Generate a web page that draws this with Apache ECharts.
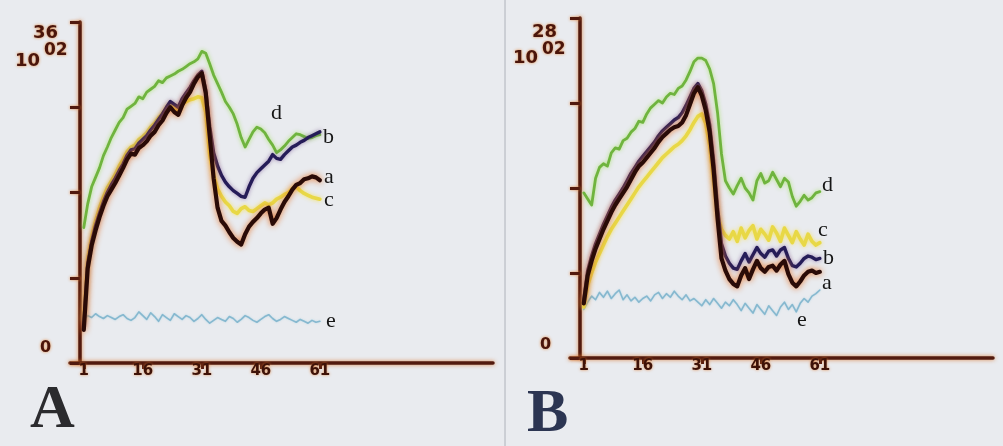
<!DOCTYPE html>
<html>
<head>
<meta charset="utf-8">
<script src="https://cdn.jsdelivr.net/npm/echarts@6/dist/echarts.min.js"></script>
<style>
html,body{margin:0;padding:0;background:#e9ebef;}
#chart{width:1003px;height:446px;}
</style>
</head>
<body>
<div id="chart"></div>
<script>
// time points (x axis)
const timePoints = [1,2,3,4,5,6,7,8,9,10,11,12,13,14,15,16,17,18,19,20,21,22,23,24,25,26,27,28,29,30,31,32,33,34,35,36,37,38,39,40,41,42,43,44,45,46,47,48,49,50,51,52,53,54,55,56,57,58,59,60,61];
const xTickLabels = [1,16,31,46,61];
const seriesNames = ['a','b','c','d','e'];

// Panel A (x 10^2)
const A_a = [3.5,10.0,12.4,14.0,15.4,16.6,17.6,18.3,19.0,19.8,20.6,21.5,22.1,22.0,22.7,23.0,23.4,24.0,24.4,25.1,25.6,26.4,27.0,26.5,26.2,27.2,28.0,28.6,29.5,30.2,30.6,28.5,24.0,19.5,16.4,15.0,14.5,13.8,13.2,12.8,12.5,13.6,14.4,14.9,15.3,15.8,16.2,16.4,14.7,15.3,16.2,17.0,17.6,18.3,18.8,19.0,19.4,19.5,19.7,19.6,19.3];
const A_b = [4.0,10.5,12.8,14.5,15.8,17.0,18.0,18.8,19.5,20.3,21.0,21.9,22.5,22.6,23.2,23.6,24.0,24.6,25.1,25.7,26.3,27.0,27.6,27.3,27.0,27.9,28.5,29.1,29.8,30.4,30.8,28.8,25.0,22.2,20.8,19.8,19.1,18.6,18.2,17.9,17.6,17.5,18.6,19.5,20.1,20.5,20.9,21.3,22.0,21.6,21.5,22.0,22.4,22.8,23.0,23.3,23.5,23.8,24.0,24.2,24.4];
const A_c = [4.5,11.0,13.3,15.0,16.4,17.5,18.5,19.2,19.9,20.8,21.5,22.3,22.8,23.0,23.6,23.9,24.3,24.9,25.3,25.9,26.3,26.9,27.3,27.0,26.7,27.3,27.6,27.8,27.9,28.1,28.0,26.5,22.0,19.8,18.4,17.6,17.0,16.6,16.0,15.8,16.3,16.5,16.1,16.0,16.3,16.6,16.9,16.7,16.9,17.3,17.5,17.8,18.0,18.4,18.6,18.2,17.9,17.7,17.5,17.4,17.3];
const A_d = [14.3,16.8,18.6,19.6,20.6,21.9,22.8,23.8,24.6,25.4,25.9,26.8,27.1,27.4,28.1,27.9,28.6,28.9,29.2,29.8,29.6,30.1,30.3,30.5,30.8,31.0,31.3,31.6,31.8,32.1,32.9,32.7,31.6,30.4,29.5,28.6,27.6,27.0,26.3,25.2,23.8,22.8,23.6,24.4,24.9,24.7,24.3,23.6,23.0,22.2,22.5,22.9,23.4,23.8,24.2,24.1,23.9,23.7,23.8,24.0,24.1];
const A_e = [4.6,5.0,4.8,5.2,4.9,4.7,5.0,4.8,4.6,4.9,5.1,4.7,4.5,4.8,5.4,5.0,4.6,5.3,4.9,4.4,5.1,4.8,4.5,5.2,4.9,4.6,5.0,4.8,4.4,4.7,5.1,4.6,4.2,4.5,4.8,4.6,4.4,4.9,4.7,4.3,4.6,5.0,4.8,4.5,4.3,4.6,4.9,5.1,4.7,4.4,4.6,4.9,4.7,4.5,4.3,4.6,4.4,4.2,4.5,4.3,4.4];

// Panel B (x 10^2)
const B_a = [4.5,6.8,8.0,9.0,9.8,10.6,11.3,12.0,12.6,13.1,13.6,14.1,14.7,15.3,15.8,16.1,16.5,16.9,17.3,17.8,18.2,18.5,18.8,19.0,19.1,19.4,20.0,20.9,21.8,22.3,21.6,20.4,18.6,15.5,11.5,8.2,7.2,6.5,6.1,5.9,6.8,7.4,6.5,7.3,8.0,7.4,7.1,7.5,7.6,7.2,7.7,8.0,6.9,6.2,5.9,6.3,6.8,7.1,7.2,7.0,7.1];
const B_b = [4.8,7.2,8.4,9.4,10.2,11.0,11.7,12.4,13.0,13.5,14.0,14.6,15.2,15.7,16.2,16.6,17.0,17.4,17.8,18.3,18.7,19.0,19.3,19.6,19.8,20.2,20.8,21.5,22.2,22.6,22.0,20.9,19.2,16.2,12.4,9.4,8.4,7.8,7.4,7.3,8.0,8.6,7.9,8.5,9.1,8.6,8.3,8.8,8.9,8.4,8.9,9.1,8.2,7.6,7.5,7.8,8.2,8.4,8.3,8.1,8.2];
const B_c = [4.2,6.0,7.0,7.9,8.6,9.3,10.0,10.6,11.1,11.6,12.1,12.6,13.1,13.6,14.1,14.5,14.9,15.3,15.7,16.1,16.5,16.8,17.1,17.4,17.6,17.9,18.3,18.8,19.4,19.9,20.1,19.3,17.5,14.6,11.8,10.6,10.1,9.8,10.4,9.6,10.7,9.9,10.5,10.9,9.8,10.6,10.2,9.7,10.8,10.3,9.6,10.7,10.1,9.5,10.4,9.8,9.3,10.2,9.6,9.3,9.5];
const B_d = [13.6,13.1,12.6,14.8,15.7,16.0,15.8,16.9,17.3,17.2,17.9,18.1,18.6,18.9,19.5,19.4,20.1,20.6,20.9,21.2,21.0,21.5,21.8,21.7,22.2,22.4,22.9,23.6,24.4,24.7,24.7,24.5,23.8,22.6,20.2,16.8,14.6,14.0,13.5,14.2,14.8,14.0,13.6,13.0,14.6,15.2,14.4,14.6,15.3,14.7,14.1,14.8,14.5,13.3,12.5,12.9,13.4,13.0,13.2,13.6,13.7];
const B_e = [4.0,4.6,5.1,4.8,5.4,5.0,5.5,4.9,5.3,5.6,4.8,5.2,4.7,5.0,4.6,4.9,5.1,4.7,5.2,5.4,4.9,5.3,5.0,5.5,5.1,4.8,5.2,4.7,4.9,4.6,4.3,4.8,4.4,4.9,4.5,4.1,4.6,4.3,4.8,4.4,3.9,4.5,4.1,3.7,4.4,4.0,3.6,4.3,3.9,3.5,4.2,4.6,4.0,4.4,3.8,4.5,4.9,4.6,5.1,5.3,5.6];

const panelA = {max: 36, interval: 9, topLabel: '36', values: [A_a, A_b, A_c, A_d, A_e]};
const panelB = {max: 28, interval: 7, topLabel: '28', values: [B_a, B_b, B_c, B_d, B_e]};

const styles = {
  a: {color: '#2a0b07', width: 4.2, shadow: 'rgba(225,110,35,0.95)', blur: 6},
  b: {color: '#251c58', width: 3.4, shadow: 'rgba(110,70,140,0.6)', blur: 4},
  c: {color: '#e8d846', width: 3.6, shadow: 'rgba(245,225,90,0.9)', blur: 4},
  d: {color: '#6fb43e', width: 2.8, shadow: 'rgba(170,225,110,0.9)', blur: 4},
  e: {color: '#86b8cf', width: 1.6, shadow: 'rgba(160,205,225,0.7)', blur: 2}
};
const axisColor = '#521a0e';
const axisGlow = 'rgba(220,120,45,0.85)';

const chart = echarts.init(document.getElementById('chart'), null, {renderer: 'canvas'});

const grids = [
  {left: 70, top: 22, width: 423, height: 341},
  {left: 570, top: 18, width: 423, height: 340}
];

const xAxes = [], yAxes = [], series = [];
[panelA, panelB].forEach((p, gi) => {
  xAxes.push({
    type: 'value', gridIndex: gi, min: -2.5, max: 105,
    axisLine: {show: true, lineStyle: {color: axisColor, width: 3.5, shadowColor: axisGlow, shadowBlur: 4}},
    axisTick: {show: true, customValues: xTickLabels, length: 6, lineStyle: {color: axisColor, width: 3}},
    axisLabel: {show: true, customValues: xTickLabels, margin: 1, color: '#3e1208',
      fontFamily: 'DejaVu Sans', fontWeight: 'bold', fontSize: 15,
      textShadowColor: 'rgba(220,120,45,0.8)', textShadowBlur: 3},
    splitLine: {show: false}
  });
  yAxes.push({
    type: 'value', gridIndex: gi, min: 0, max: p.max, interval: p.interval, position: 'left',
    axisLine: {show: true, onZero: true, lineStyle: {color: axisColor, width: 3.5, shadowColor: axisGlow, shadowBlur: 4}},
    axisTick: {show: true, length: 8, lineStyle: {color: axisColor, width: 3, shadowColor: axisGlow, shadowBlur: 3}},
    axisLabel: {show: false},
    splitLine: {show: false}
  });
  yAxes.push({
    type: 'value', gridIndex: gi, min: 0, max: p.max, interval: p.interval, position: 'left',
    axisLine: {show: false, onZero: true},
    axisTick: {show: true, inside: true, length: 8, lineStyle: {color: axisColor, width: 3, shadowColor: axisGlow, shadowBlur: 3}},
    axisLabel: {show: false},
    splitLine: {show: false}
  });
  const order = [4, 3, 2, 1, 0]; // e, d, c, b, a (a on top)
  order.forEach(si => {
    const name = seriesNames[si];
    const st = styles[name];
    series.push({
      name: (gi === 0 ? 'A-' : 'B-') + name,
      type: 'line', xAxisIndex: gi, yAxisIndex: gi * 2,
      data: timePoints.map((t, i) => [t, p.values[si][i]]),
      showSymbol: false, smooth: false, animation: false,
      lineStyle: {color: st.color, width: st.width, shadowColor: st.shadow, shadowBlur: st.blur, join: 'round', cap: 'round'}
    });
  });
});

const serifFont = '"Liberation Serif", "DejaVu Serif", serif';
const tickFont = '"DejaVu Sans", sans-serif';
function curveLabel(text, x, y) {
  return {type: 'text', left: x - 6, top: y - 13, silent: true,
    style: {text: text, font: '22px ' + serifFont, fill: '#161616'}};
}
function numText(text, x, y, size) {
  return {type: 'text', left: x, top: y, silent: true,
    style: {text: text, font: 'bold ' + size + 'px ' + tickFont, fill: '#4a150b',
      textShadowColor: 'rgba(225,125,45,0.9)', textShadowBlur: 3}};
}

const graphics = [
  {type: 'line', shape: {x1: 505, y1: 0, x2: 505, y2: 446}, style: {stroke: '#aeb2ba', lineWidth: 1}, silent: true},
  // Panel A unit / limits
  numText(panelA.topLabel, 33, 24, 18),
  numText('10', 15, 52, 18),
  numText('02', 44, 42, 17),
  numText('0', 40, 340, 16),
  // Panel B unit / limits
  numText(panelB.topLabel, 532, 23, 18),
  numText('10', 513, 49, 18),
  numText('02', 542, 41, 17),
  numText('0', 540, 337, 16),
  // curve labels A
  curveLabel('d', 277, 115),
  curveLabel('b', 329, 139),
  curveLabel('a', 330, 179),
  curveLabel('c', 330, 202),
  curveLabel('e', 332, 323),
  // curve labels B
  curveLabel('d', 828, 187),
  curveLabel('c', 824, 232),
  curveLabel('b', 829, 260),
  curveLabel('a', 828, 285),
  curveLabel('e', 803, 322),
  // panel letters
  {type: 'text', left: 30, top: 380, silent: true,
    style: {text: 'A', font: 'bold 62px ' + serifFont, fill: '#2b2b2e'}},
  {type: 'text', left: 527, top: 384, silent: true,
    style: {text: 'B', font: 'bold 62px ' + serifFont, fill: '#2c3552'}}
];

chart.setOption({
  backgroundColor: '#e9ebef',
  animation: false,
  grid: grids,
  xAxis: xAxes,
  yAxis: yAxes,
  series: series,
  graphic: graphics
});
</script>
</body>
</html>
